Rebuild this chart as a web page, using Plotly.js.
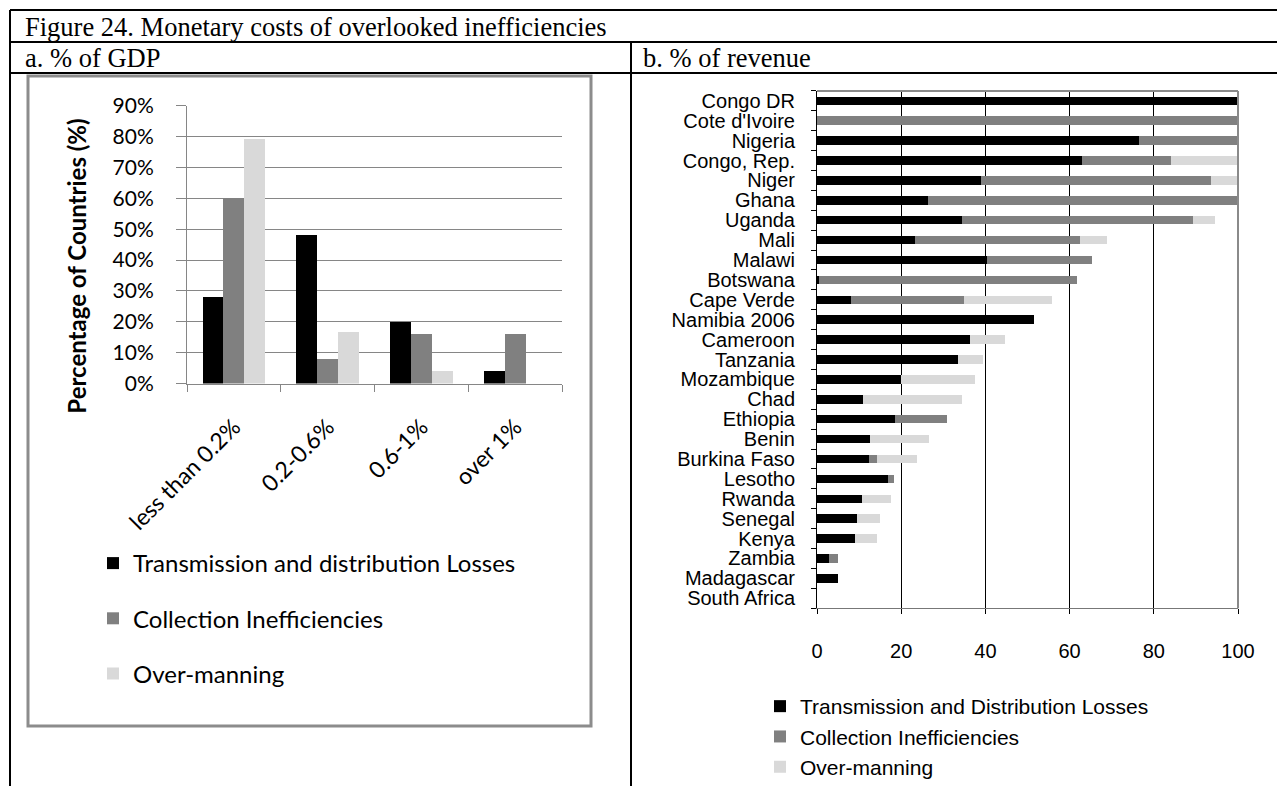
<!DOCTYPE html>
<html>
<head>
<meta charset="utf-8">
<script src="https://cdn.plot.ly/plotly-3.0.1.min.js"></script>
<style>html,body{margin:0;padding:0;background:#fff;}#chart{width:1277px;height:787px;}</style>
</head>
<body>
<div id="chart"></div>
<script>
// ---- Panel a: % of GDP (share of countries, %) ----
const gdpBands = ['less than 0.2%', '0.2-0.6%', '0.6-1%', 'over 1%'];
const gdpLosses = [28, 48, 20, 4];
const gdpCollection = [60, 8, 16, 16];
const gdpOvermanning = [79.2, 16.7, 4.2, 0];

// ---- Panel b: % of revenue ----
const countries = ['Congo DR', "Cote d'Ivoire", 'Nigeria', 'Congo, Rep.', 'Niger', 'Ghana', 'Uganda', 'Mali',
  'Malawi', 'Botswana', 'Cape Verde', 'Namibia 2006', 'Cameroon', 'Tanzania', 'Mozambique', 'Chad',
  'Ethiopia', 'Benin', 'Burkina Faso', 'Lesotho', 'Rwanda', 'Senegal', 'Kenya', 'Zambia', 'Madagascar', 'South Africa'];
const revLosses = [100, 0, 76.6, 63.0, 39.0, 26.3, 34.5, 23.3, 40.4, 0.5, 8.1, 51.6, 36.4, 33.5, 19.9, 10.9,
  18.6, 12.7, 12.3, 16.9, 10.7, 9.5, 9.1, 2.8, 4.9, 0];
const revCollection = [0, 100, 23.4, 21.1, 54.5, 73.7, 54.9, 39.1, 24.9, 61.3, 26.8, 0, 0, 0, 0, 0,
  12.3, 0, 2.0, 1.5, 0, 0, 0, 2.3, 0, 0];
const revOvermanning = [0, 0, 0, 15.9, 6.5, 0, 5.2, 6.6, 0, 0, 20.9, 0, 8.2, 5.9, 17.7, 23.6,
  0, 13.8, 9.4, 0, 6.9, 5.5, 5.2, 0, 0, 0];

const seriesNamesA = ['Transmission and distribution Losses', 'Collection Inefficiencies', 'Over-manning'];
const seriesNamesB = ['Transmission and Distribution Losses', 'Collection Inefficiencies', 'Over-manning'];
const colors = ['#000000', '#808080', '#d9d9d9'];

const W = 1277, H = 787;
const px = v => v / W;
const py = v => 1 - v / H;

const aVals = [gdpLosses, gdpCollection, gdpOvermanning];
const bVals = [revLosses, revCollection, revOvermanning];

const traces = [];
aVals.forEach((vals, i) => {
  traces.push({
    type: 'bar', x: gdpBands, y: vals, name: seriesNamesA[i],
    marker: {color: colors[i]}, xaxis: 'x', yaxis: 'y',
    offsetgroup: 'g' + i, legend: 'legend', legendgroup: 'a' + i, hoverinfo: 'skip'
  });
});
bVals.forEach((vals, i) => {
  traces.push({
    type: 'bar', orientation: 'h', y: countries, x: vals, name: seriesNamesB[i],
    marker: {color: colors[i]}, xaxis: 'x2', yaxis: 'y2', width: 0.43,
    legend: 'legend2', hoverinfo: 'skip'
  });
});

const blk = {color: '#000', width: 2};
const shapes = [
  {type: 'line', xref: 'paper', yref: 'paper', x0: px(10), x1: px(1277), y0: py(10), y1: py(10), line: blk},
  {type: 'line', xref: 'paper', yref: 'paper', x0: px(10), x1: px(1277), y0: py(42), y1: py(42), line: blk},
  {type: 'line', xref: 'paper', yref: 'paper', x0: px(10), x1: px(1277), y0: py(73), y1: py(73), line: blk},
  {type: 'line', xref: 'paper', yref: 'paper', x0: px(10), x1: px(10), y0: py(10), y1: py(787), line: blk},
  {type: 'line', xref: 'paper', yref: 'paper', x0: px(631), x1: px(631), y0: py(42), y1: py(787), line: blk},
  {type: 'rect', xref: 'paper', yref: 'paper', x0: px(28), x1: px(591), y0: py(76), y1: py(727),
   line: {color: '#8c8c8c', width: 3}, layer: 'below'},
  {type: 'line', xref: 'x2 domain', yref: 'y2 domain', x0: 0, x1: 1, y0: 1, y1: 1,
   line: {color: '#8a8a8a', width: 2}, layer: 'above'},
  {type: 'line', xref: 'x2 domain', yref: 'y2 domain', x0: 1, x1: 1, y0: 0, y1: 1,
   line: {color: '#8a8a8a', width: 2}, layer: 'above'}
];

const serif = {family: 'Liberation Serif, Times New Roman, serif', size: 26.5, color: '#000'};
const annotations = [
  {xref: 'paper', yref: 'paper', x: px(23), y: py(27), xanchor: 'left', yanchor: 'middle', showarrow: false,
   text: 'Figure 24. Monetary costs of overlooked inefficiencies', font: serif},
  {xref: 'paper', yref: 'paper', x: px(23), y: py(58), xanchor: 'left', yanchor: 'middle', showarrow: false,
   text: 'a. % of GDP', font: serif},
  {xref: 'paper', yref: 'paper', x: px(641), y: py(58), xanchor: 'left', yanchor: 'middle', showarrow: false,
   text: 'b. % of revenue', font: serif},
  {xref: 'paper', yref: 'paper', x: px(77), y: py(267), xanchor: 'center', yanchor: 'middle', showarrow: false,
   textangle: -90, text: '<b>Percentage of Countries (%)</b>', font: {family: 'Lato', size: 24, color: '#000'}}
];

const layout = {
  width: W, height: H, margin: {l: 0, r: 0, t: 0, b: 0},
  paper_bgcolor: '#ffffff', plot_bgcolor: 'rgba(0,0,0,0)',
  barmode: 'stack', bargap: 0.333,
  showlegend: true,
  xaxis: {
    domain: [px(187), px(562)], anchor: 'y', type: 'category',
    showline: true, linecolor: '#868686', linewidth: 1,
    ticks: 'outside', tickson: 'boundaries', ticklen: 7, tickcolor: '#868686',
    tickangle: -45, tickfont: {family: 'Lato', size: 23, color: '#000'},
    showgrid: false, ticklabelstandoff: 20, fixedrange: true
  },
  yaxis: {
    domain: [py(384), py(106)], anchor: 'x', range: [0, 90], dtick: 10, ticksuffix: '%',
    showgrid: true, gridcolor: '#868686', gridwidth: 1, zeroline: false,
    showline: true, linecolor: '#868686', linewidth: 1,
    ticks: 'outside', ticklen: 10, tickcolor: '#868686',
    tickfont: {family: 'Lato', size: 21, color: '#000'}, ticklabelstandoff: 18, fixedrange: true
  },
  xaxis2: {
    domain: [px(817), px(1238)], anchor: 'y2', range: [0, 100], dtick: 20,
    showgrid: true, gridcolor: '#000000', gridwidth: 1, zeroline: false,
    showline: true, linecolor: '#777777', linewidth: 1,
    ticks: 'outside', ticklen: 5, tickcolor: '#000',
    tickfont: {family: 'Liberation Sans, Arial, sans-serif', size: 20, color: '#000'},
    ticklabelstandoff: 20, fixedrange: true
  },
  yaxis2: {
    domain: [py(609), py(91)], anchor: 'x2', type: 'category', autorange: 'reversed',
    tickmode: 'array', tickvals: countries, ticktext: countries,
    showline: true, linecolor: '#000', linewidth: 1, showgrid: false,
    ticks: 'outside', tickson: 'boundaries', ticklen: 5, tickcolor: '#000',
    tickfont: {family: 'Liberation Sans, Arial, sans-serif', size: 20, color: '#000'},
    ticklabelstandoff: 17, fixedrange: true
  },
  legend: {
    x: px(93), y: py(541), xanchor: 'left', yanchor: 'top', bgcolor: 'rgba(0,0,0,0)',
    font: {family: 'Lato', size: 24, color: '#000'}, traceorder: 'grouped', tracegroupgap: 21
  },
  legend2: {
    x: px(760), y: py(687), xanchor: 'left', yanchor: 'top', bgcolor: 'rgba(0,0,0,0)',
    font: {family: 'Liberation Sans, Arial, sans-serif', size: 21, color: '#000'},
    traceorder: 'normal'
  },
  shapes: shapes,
  annotations: annotations
};

Plotly.newPlot('chart', traces, layout, {displayModeBar: false, staticPlot: true});
</script>
</body>
</html>
